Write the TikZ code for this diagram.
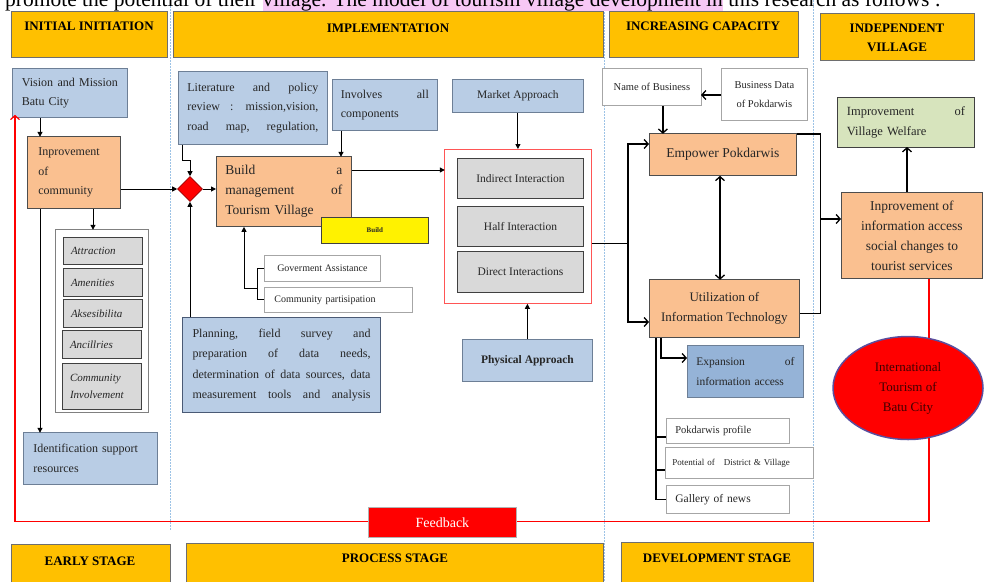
\documentclass[tikz,border=0pt]{standalone}
\usepackage{fontspec}
\setmainfont{Liberation Serif}
\usepackage{xcolor}
\usetikzlibrary{shapes.geometric,arrows.meta}

\definecolor{hdryellow}{HTML}{FFC000}
\definecolor{hdrline}{HTML}{6E6E6E}
\definecolor{lightblue}{HTML}{B9CDE5}
\definecolor{blueline}{HTML}{6D7F96}
\definecolor{planline}{HTML}{4A5A75}
\definecolor{midblue}{HTML}{95B3D7}
\definecolor{peach}{HTML}{FAC090}
\definecolor{peachline}{HTML}{4D4D4D}
\definecolor{itemgray}{HTML}{D9D9D9}
\definecolor{itemline}{HTML}{404040}
\definecolor{sage}{HTML}{D7E4BD}
\definecolor{sepblue}{HTML}{9DC3E6}
\definecolor{hilite}{HTML}{F7C8F5}
\definecolor{ovalline}{HTML}{5A4E9E}
\definecolor{framered}{HTML}{FF5555}
\definecolor{ovaltext}{HTML}{400000}

\begin{document}
\begin{tikzpicture}[x=1pt,y=-1pt]
	 \tikzstyle{box}=[draw=gray, line width=0.8pt, anchor=north west, inner sep=0pt, align=left, text=black!85, font=\fontsize{12}{19.5}\selectfont]
	 \tikzstyle{bluebox}=[box, fill=lightblue, draw=blueline]
	 \tikzstyle{peachbox}=[box, fill=peach, draw=peachline]
	 \tikzstyle{whitebox}=[box, fill=white, draw=gray!70]
	 \tikzstyle{tilebox}=[box, fill=itemgray, draw=itemline, line width=1pt]
	 \tikzstyle{itembox}=[tilebox, text width=64, font=\itshape\fontsize{11}{17}\selectfont]
	 \tikzstyle{header}=[box, fill=hdryellow, draw=hdrline]
	 \tikzstyle{hdrtext}=[inner sep=0pt, align=center, font=\bfseries\fontsize{13}{19}\selectfont]
	 \tikzstyle{divider}=[draw=sepblue, line width=1pt, dash pattern=on 1.5pt off 1.5pt]
	 \tikzstyle{link}=[draw, line width=1pt, black]
	 \tikzstyle{arr}=[link, -{Triangle[length=5pt,width=5pt]}]
	 \tikzstyle{barb}=[link, line width=1.3pt, -{Straight Barb[length=4pt,width=9pt]}]
	 \tikzstyle{fbline}=[draw, red, line width=1.2pt]
	 \tikzstyle{fbarrow}=[fbline, -{Straight Barb[length=4pt,width=9pt]}]
	 \useasboundingbox (0,0) rectangle (984,581);
	 \clip (0,0) rectangle (984,581);
	 % stage dividers
	 \draw[divider] (170,0) -- (170,530);
	 \draw[divider] (604,0) -- (604,581);
	 \draw[divider] (813,0) -- (813,540);
	 \node[anchor=base west, inner sep=0pt, font=\fontsize{21.5}{24}\selectfont] (intro) at (5,6) {promote the potential of their {\setlength{\fboxsep}{0pt}\colorbox{hilite}{village. The model of tourism village development in}} this research as follows :};
	 % headers
	 \node[header, minimum width=156, minimum height=46] (hinit) at (11,11) {};
	 \node[hdrtext] (tinit) at (89,26) {INITIAL INITIATION};
	 \node[header, minimum width=430, minimum height=46] (himpl) at (173,11) {};
	 \node[hdrtext] (timpl) at (388,28) {IMPLEMENTATION};
	 \node[header, minimum width=189, minimum height=46] (hcap) at (609,11) {};
	 \node[hdrtext] (tcap) at (703,26) {INCREASING CAPACITY};
	 \node[header, minimum width=154, minimum height=47] (hvil) at (820,13) {};
	 \node[hdrtext] (tvil) at (897,38) {INDEPENDENT\\VILLAGE};
	 \node[header, minimum width=159, minimum height=50] (hearly) at (11,544) {};
	 \node[hdrtext] (tearly) at (90,561) {EARLY STAGE};
	 \node[header, minimum width=417, minimum height=50] (hproc) at (186,543) {};
	 \node[hdrtext] (tproc) at (395,558) {PROCESS STAGE};
	 \node[header, minimum width=192, minimum height=50] (hdev) at (621,542) {};
	 \node[hdrtext] (tdev) at (717,558) {DEVELOPMENT STAGE};
	 % early stage
	 \node[bluebox, minimum width=115, minimum height=49, text width=96] (vis) at (12,68) {Vision \hfill and \hfill Mission\\ Batu City};
	 \node[peachbox, minimum width=93, minimum height=72, text width=71] (comm) at (27,136) {Inprovement\\ of\\ community};
	 \node[whitebox, draw=gray, minimum width=93, minimum height=183] (attrframe) at (55,229) {};
	 \node[itembox, minimum width=79, minimum height=27] (attr) at (63,237) {Attraction};
	 \node[itembox, minimum width=79, minimum height=28] (amen) at (63,268) {Amenities};
	 \node[itembox, minimum width=79, minimum height=28] (akse) at (63,299) {Aksesibilita};
	 \node[itembox, minimum width=79, minimum height=28] (anci) at (62,330) {Ancillries};
	 \node[itembox, minimum width=79, minimum height=46] (cinv) at (62,363) {Community\\ Involvement};
	 \node[bluebox, minimum width=134, minimum height=52, text width=114] (ident) at (23,432) {Identification support\\ resources};
	 \node[diamond, draw=red!60!black, fill=red, line width=0.6pt, minimum width=25, minimum height=25, inner sep=0pt] (dia) at (190,189) {};
	 % process stage
	 \node[bluebox, minimum width=149, minimum height=73, text width=131] (lit) at (178,71) {Literature \hfill and \hfill policy\\ review \hfill : \hfill mission,vision,\\ road \hfill map, \hfill regulation,};
	 \node[bluebox, minimum width=105, minimum height=51, text width=88] (inv) at (332,79) {Involves \hfill all\\ components};
	 \node[peachbox, minimum width=135, minimum height=70, text width=117, font=\fontsize{13.5}{20}\selectfont] (build) at (216,156) {Build \hfill a\\ management \hfill of\\ Tourism Village};
	 \node[box, fill=yellow, draw=darkgray, minimum width=107, minimum height=26, align=center, font=\bfseries\fontsize{7}{8}\selectfont] (buildtag) at (321,217) {Build};
	 \node[whitebox, minimum width=116, minimum height=26, align=center, font=\fontsize{10}{12}\selectfont] (gov) at (264,255) {Goverment Assistance};
	 \node[whitebox, minimum width=148, minimum height=25, text width=128, font=\fontsize{10}{12}\selectfont] (partis) at (264,287) {Community partisipation};
	 \node[bluebox, draw=planline, line width=1pt, minimum width=198, minimum height=95, text width=178, font=\fontsize{12}{20.5}\selectfont] (plan) at (182,317) {Planning, \hfill field \hfill survey \hfill and\\ preparation \hfill of \hfill data \hfill needs,\\ determination \hfill of \hfill data \hfill sources, \hfill data\\ measurement \hfill tools \hfill and \hfill analysis};
	 \node[bluebox, minimum width=131, minimum height=33, align=center, font=\fontsize{11.5}{14}\selectfont] (market) at (452,79) {Market Approach};
	 \node[box, draw=framered, fill=white, minimum width=147, minimum height=154] (iframe) at (444,149) {};
	 \node[tilebox, minimum width=126, minimum height=40, align=center, font=\fontsize{11.5}{14}\selectfont] (indir) at (457,158) {Indirect Interaction};
	 \node[tilebox, minimum width=126, minimum height=40, align=center, font=\fontsize{11.5}{14}\selectfont] (half) at (457,206) {Half Interaction};
	 \node[tilebox, minimum width=126, minimum height=41, align=center, font=\fontsize{11.5}{14}\selectfont] (direct) at (457,251) {Direct Interactions};
	 \node[bluebox, minimum width=130, minimum height=42, align=center, font=\bfseries\fontsize{11.5}{14}\selectfont] (phys) at (462,339) {Physical Approach};
	 % development stage
	 \node[whitebox, minimum width=99, minimum height=37, align=center, font=\fontsize{10.5}{13}\selectfont] (nameb) at (602,68) {Name of Business};
	 \node[whitebox, minimum width=86, minimum height=52, align=center, font=\fontsize{10.5}{19}\selectfont] (bdata) at (721,68) {Business Data\\ of Pokdarwis};
	 \node[peachbox, minimum width=147, minimum height=42, align=center, font=\fontsize{13.5}{16}\selectfont] (empower) at (649,133) {Empower Pokdarwis};
	 \node[peachbox, minimum width=150, minimum height=58, align=center, font=\fontsize{13}{20}\selectfont] (util) at (649,279) {Utilization of\\ Information Technology};
	 \node[box, fill=midblue, draw=blueline, minimum width=116, minimum height=52, text width=98, font=\fontsize{11.5}{20}\selectfont] (expan) at (687,345) {Expansion \hfill of\\ information access};
	 \node[whitebox, minimum width=123, minimum height=25, text width=105, font=\fontsize{10.5}{12}\selectfont] (prof) at (666,418) {Pokdarwis profile};
	 \node[whitebox, minimum width=148, minimum height=31, text width=134, font=\fontsize{9}{11}\selectfont] (poten) at (665,447) {Potential of\ \ \ District \& Village};
	 \node[whitebox, minimum width=123, minimum height=28, text width=105, font=\fontsize{11.5}{14}\selectfont] (gallery) at (666,485) {Gallery of news};
	 % independent village
	 \node[box, fill=sage, draw=darkgray, minimum width=137, minimum height=50, text width=118, font=\fontsize{12.5}{20}\selectfont] (welfare) at (837,97) {Improvement \hfill of\\ Village Welfare};
	 \node[peachbox, minimum width=141, minimum height=86, align=center, font=\fontsize{13.5}{20}\selectfont] (infoacc) at (841,192) {Inprovement of\\ information access\\ social changes to\\ tourist services};
	 \node[ellipse, draw=ovalline, line width=1.5pt, fill=red, minimum width=150, minimum height=103, inner sep=0pt, align=center, text=ovaltext, font=\fontsize{13}{20}\selectfont] (intl) at (908,388) {International\\ Tourism of\\ Batu City};
	 \coordinate (brk) at (257,288);
	 \coordinate (trunk) at (628,243);
	 \coordinate (loop) at (820,219);
	 % connectors
	 \draw[arr] ([xshift=28pt]vis.south west) -- ++(0,19);
	 \draw[arr] (comm.east |- dia.west) -- (dia.west);
	 \draw[arr] (dia.east) -- (dia.east -| build.west);
	 \draw[arr] ([xshift=66pt]comm.south west) -- ++(0,21);
	 \draw[arr] ([xshift=13pt]comm.south west) -- ++(0,224);
	 \draw[arr] ([xshift=4pt]lit.south west) -- ++(0,16) -| (dia.north);
	 \draw[arr] (plan.north -| dia.south) -- (dia.south);
	 \draw[arr] ([xshift=9pt]inv.south west) -- ++(0,26);
	 \draw[arr] ([yshift=-14pt]build.north east) -- ++(93,0);
	 \draw[link] (gov.west) -- ++(-7,0) |- (partis.west);
	 \draw[arr] (brk) -| ([xshift=28pt]build.south west);
	 \draw[arr] (market.south) -- (market.south |- iframe.north);
	 \draw[arr] (phys.north) -- (phys.north |- iframe.south);
	 \draw[link] ([yshift=-94pt]iframe.north east) -- (trunk);
	 \draw[barb] (trunk) |- ([yshift=-11pt]empower.north west);
	 \draw[barb] (trunk) |- ([yshift=-43pt]util.north west);
	 \draw[barb] ([yshift=-27pt]bdata.north west) -- ++(-20,0);
	 \draw[barb] ([xshift=11pt]nameb.south) -- ++(0,28);
	 \draw[barb, {Straight Barb[length=4pt,width=9pt]}-{Straight Barb[length=4pt,width=9pt]}] ([xshift=71pt]empower.south west) -- ++(0,104);
	 \draw[link, line width=1.3pt] ([yshift=-1pt]empower.north east) -- ++(24,0) |- ([yshift=24pt]util.south east);
	 \draw[barb] (loop) -- ++(21,0);
	 \draw[barb] ([xshift=66pt]infoacc.north west) -- ++(0,-45);
	 \draw[barb] ([xshift=12pt]util.south west) |- ([yshift=-13pt]expan.north west);
	 \draw[link, line width=1.3pt] ([xshift=7pt]util.south west) |- (gallery.west);
	 \draw[link, line width=1.3pt] ([yshift=-6pt]prof.west) -- ++(-10,0);
	 \draw[link, line width=1.3pt] ([yshift=-7pt]poten.west) -- ++(-9,0);
	 % feedback loop
	 \draw[fbline] ([xshift=88pt]infoacc.south west) -- ([xshift=21pt,yshift=-2pt]intl.north);
	 \draw[fbarrow] ([xshift=21pt,yshift=2pt]intl.south) -- ++(0,83) -| ([shift={(3pt,3pt)}]vis.south west);
	 \node[box, fill=red, draw=gray!60, minimum width=148, minimum height=30, align=center, text=white, font=\fontsize{14}{16}\selectfont] (fb) at (368,507) {Feedback};
\end{tikzpicture}
\end{document}
